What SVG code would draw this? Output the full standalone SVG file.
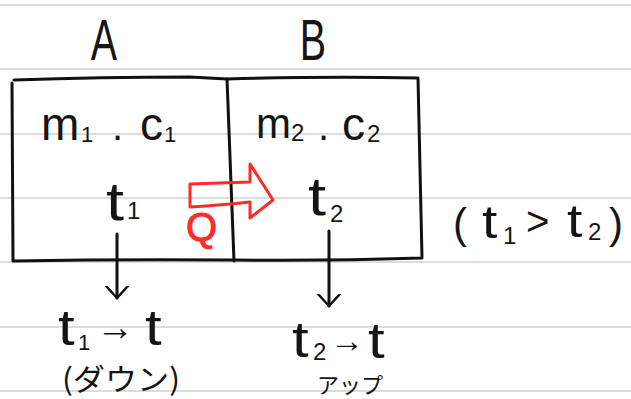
<svg xmlns="http://www.w3.org/2000/svg" width="631" height="399" viewBox="0 0 631 399">
<defs>
<style>
.rule{stroke:#dcdcdc;stroke-width:2;fill:none}
.ink{stroke:#111;stroke-width:3;fill:none;stroke-linecap:round;stroke-linejoin:round}
.t{font-family:"Liberation Sans","DejaVu Sans",sans-serif;fill:#151515}
.jp{font-family:"Noto Sans CJK JP","Liberation Sans",sans-serif;fill:#151515}
.red{stroke:#ff2b2b;stroke-width:3;fill:none;stroke-linejoin:round;stroke-linecap:round}
</style>
<marker id="head" markerUnits="userSpaceOnUse" markerWidth="30" markerHeight="30" refX="12" refY="15" orient="auto">
<polyline points="0,4 12,15 0,26" stroke="#111" stroke-width="2.5" fill="none" stroke-linecap="round" stroke-linejoin="round"/>
</marker>
</defs>
<rect width="631" height="399" fill="#fff"/>
<g id="paper">
<line class="rule" x1="0" y1="5" x2="631" y2="5"/>
<line class="rule" x1="0" y1="69" x2="631" y2="69"/>
<line class="rule" x1="0" y1="134" x2="631" y2="134"/>
<line class="rule" x1="0" y1="198" x2="631" y2="198"/>
<line class="rule" x1="0" y1="262" x2="631" y2="262"/>
<line class="rule" x1="0" y1="327" x2="631" y2="327"/>
<line class="rule" x1="0" y1="391" x2="631" y2="391"/>
</g>
<g id="node-A">
<path class="ink" d="M14,80 Q100,77 190,77 L227,79 M12,83 L13,261 Q120,259 234,260 M227,79 L234,261"/>
<text class="t" transform="translate(104,60) scale(0.68,1)" font-size="58" text-anchor="middle">A</text>
<text class="t" x="41" y="140" font-size="46">m</text>
<text class="t" x="81" y="142" font-size="22">1</text>
<text class="t" x="112" y="140" font-size="40">.</text>
<text class="t" x="140" y="140" font-size="46">c</text>
<text class="t" x="164" y="142" font-size="22">1</text>
<text class="t" transform="translate(106,220) scale(1.2,1)" font-size="54">t</text>
<text class="t" x="127" y="219" font-size="24">1</text>
</g>
<g id="node-B">
<path class="ink" d="M227,79 Q330,76 418,78 L422,258 Q330,261 234,260"/>
<text class="t" transform="translate(313,60) scale(0.68,1)" font-size="58" text-anchor="middle">B</text>
<text class="t" x="256" y="138" font-size="42">m</text>
<text class="t" x="291" y="141" font-size="24">2</text>
<text class="t" x="318" y="140" font-size="40">.</text>
<text class="t" x="342" y="140" font-size="46">c</text>
<text class="t" x="367" y="142" font-size="24">2</text>
<text class="t" transform="translate(308,215) scale(1.2,1)" font-size="54">t</text>
<text class="t" x="330" y="222" font-size="24">2</text>
</g>
<g id="heat-flow">
<path class="red" d="M190,184 L250,182 L250,164 L273,200 L250,218 L250,202 Q222,205 190,207 Z"/>
<text x="186" y="241" font-family="Liberation Sans, sans-serif" font-size="40" fill="#ff2b2b" stroke="#ff2b2b" stroke-width="1">Q</text>
</g>
<g id="connectors">
<line class="ink" x1="117" y1="234" x2="117" y2="298" stroke-width="2.5" marker-end="url(#head)"/>
<line class="ink" x1="329" y1="231" x2="329" y2="306" stroke-width="2.5" marker-end="url(#head)"/>
</g>
<g id="condition">
<text class="t" x="453" y="238" font-size="42">(</text>
<text class="t" transform="translate(482,238) scale(1.2,1)" font-size="46">t</text>
<text class="t" x="503" y="244" font-size="24">1</text>
<text class="t" x="526" y="235" font-size="40">&gt;</text>
<text class="t" transform="translate(567,237) scale(1.2,1)" font-size="46">t</text>
<text class="t" x="588" y="240" font-size="24">2</text>
<text class="t" x="609" y="238" font-size="42">)</text>
</g>
<g id="result-A">
<text class="t" transform="translate(58,345) scale(1.2,1)" font-size="50">t</text>
<text class="t" x="78" y="350" font-size="22">1</text>
<text class="t" x="96" y="340" font-size="38">→</text>
<text class="t" transform="translate(145,345) scale(1.2,1)" font-size="50">t</text>
<text class="jp" x="62" y="390" font-size="30" textLength="118" lengthAdjust="spacingAndGlyphs">(ダウン)</text>
</g>
<g id="result-B">
<text class="t" transform="translate(292,357) scale(1.2,1)" font-size="50">t</text>
<text class="t" x="313" y="360" font-size="24">2</text>
<text class="t" x="330" y="352" font-size="34">→</text>
<text class="t" transform="translate(368,358) scale(1.2,1)" font-size="50">t</text>
<text class="jp" x="317" y="393" font-size="22">アップ</text>
</g>
</svg>
